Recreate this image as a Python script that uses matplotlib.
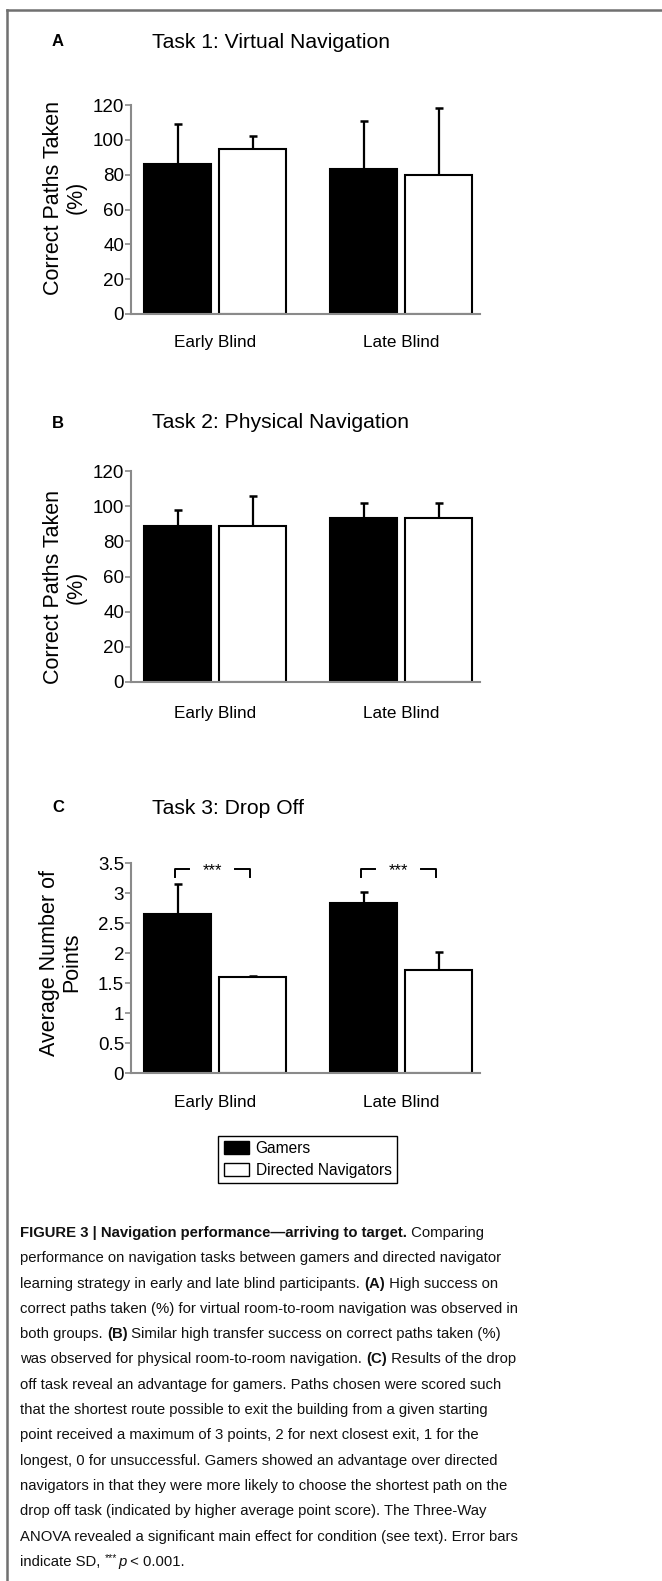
import matplotlib
matplotlib.use('Agg')
import matplotlib.pyplot as plt
import numpy as np
from matplotlib.patches import Patch
from matplotlib.lines import Line2D

plt.rcParams['font.family'] = ['Liberation Sans Narrow', 'Liberation Sans', 'DejaVu Sans']

# data
groups = ['Early Blind', 'Late Blind']
series = ['Gamers', 'Directed Navigators']

task1_gamers = [86, 83]
task1_gamers_sd = [23, 28]
task1_directed = [95, 80]
task1_directed_sd = [7, 38]

task2_gamers = [89, 93]
task2_gamers_sd = [9, 9]
task2_directed = [88.5, 93]
task2_directed_sd = [17.5, 9]

task3_gamers = [2.65, 2.83]
task3_gamers_sd = [0.5, 0.18]
task3_directed = [1.60, 1.71]
task3_directed_sd = [0.02, 0.30]

panel_letters = ['A', 'B', 'C']
titles = ['Task 1: Virtual Navigation', 'Task 2: Physical Navigation', 'Task 3: Drop Off']
ylabels = ['Correct Paths Taken\n(%)', 'Correct Paths Taken\n(%)', 'Average Number of\nPoints']
yticks_list = [np.arange(0, 121, 20), np.arange(0, 121, 20), [0, 0.5, 1, 1.5, 2, 2.5, 3, 3.5]]
yticklabels_list = [['0', '20', '40', '60', '80', '100', '120'],
                    ['0', '20', '40', '60', '80', '100', '120'],
                    ['0', '0.5', '1', '1.5', '2', '2.5', '3', '3.5']]

W, H = 662, 1581
fig = plt.figure(figsize=(W / 100, H / 100), dpi=100)


def fx(px):
    return px / W


def fy(py):
    return 1 - py / H


# frame lines (top and left)
fig.add_artist(Line2D([fx(7), 1], [fy(10), fy(10)], color='#707070', lw=1.8))
fig.add_artist(Line2D([fx(7), fx(7)], [fy(10), 0], color='#707070', lw=1.8))

# axes boxes in pixels: (top, bottom)
boxes = [(105, 314), (471, 682), (863, 1073)]
title_y = [42, 423, 808]
label_pos = [(-0.127, 0.557), (-0.127, 0.45), (-0.14, 0.526)]
xpads = [15, 17, 16]
data = [
    (task1_gamers, task1_gamers_sd, task1_directed, task1_directed_sd, 120),
    (task2_gamers, task2_gamers_sd, task2_directed, task2_directed_sd, 120),
    (task3_gamers, task3_gamers_sd, task3_directed, task3_directed_sd, 3.5),
]

centers = np.array([1.12, 3.6])
bw = 0.89
gray = '#8a8a8a'

axes = []
for i, (top, bot) in enumerate(boxes):
    ax = fig.add_axes([fx(131), fy(bot), fx(480) - fx(131), (bot - top) / H])
    g, gsd, d, dsd, ymax = data[i]
    ax.bar(centers - 0.5, g, bw, color='black', edgecolor='black', lw=1.5, zorder=2)
    ax.bar(centers + 0.5, d, bw, color='white', edgecolor='black', lw=1.5, zorder=2)
    ax.errorbar(centers - 0.5, g, yerr=[np.zeros(2), gsd], fmt='none', ecolor='black',
                elinewidth=1.6, capsize=2.6, capthick=1.8, zorder=1)
    ax.errorbar(centers + 0.5, d, yerr=[np.zeros(2), dsd], fmt='none', ecolor='black',
                elinewidth=1.6, capsize=2.6, capthick=1.8, zorder=1)
    ax.set_xlim(0, 4.65)
    ax.set_ylim(0, ymax)
    ax.set_yticks(yticks_list[i])
    ax.set_yticklabels(yticklabels_list[i], fontsize=13.5)
    ax.set_xticks(centers)
    ax.set_xticklabels(groups, fontsize=12.3)
    ax.tick_params(axis='x', length=0, pad=xpads[i])
    ax.tick_params(axis='y', length=4, width=1.2, color=gray, pad=1)
    for s in ['top', 'right']:
        ax.spines[s].set_visible(False)
    ax.spines['left'].set_color(gray)
    ax.spines['bottom'].set_color(gray)
    ax.spines['left'].set_linewidth(1.5)
    ax.spines['bottom'].set_linewidth(1.5)
    ax.set_ylabel(ylabels[i], fontsize=15.5, family='Liberation Sans', linespacing=1.08)
    ax.yaxis.set_label_coords(*label_pos[i])
    fig.text(fx(58), fy(title_y[i]), panel_letters[i], fontsize=12, fontweight='bold',
             family='Liberation Sans', ha='center', va='center')
    fig.text(fx(152), fy(title_y[i]), titles[i], fontsize=15.2, ha='left', va='center')
    axes.append(ax)

# significance brackets on task 3
ax = axes[2]
for c in centers:
    xl, xr = c - 0.5 - 0.04, c + 0.5 - 0.04
    ax.plot([xl, xl, xl + 0.19], [3.26, 3.40, 3.40], color='black', lw=1.4, clip_on=False)
    ax.plot([xr - 0.19, xr, xr], [3.40, 3.40, 3.26], color='black', lw=1.4, clip_on=False)
    ax.text((xl + xr) / 2, 3.37, '***', ha='center', va='center', fontsize=12)

# legend
handles = [Patch(facecolor='black', edgecolor='black', label=series[0]),
           Patch(facecolor='white', edgecolor='black', label=series[1])]
fig.legend(handles=handles, loc='center', bbox_to_anchor=(fx(307.5), fy(1159.5)), fontsize=11.2,
           frameon=True, fancybox=False, edgecolor='black', framealpha=1,
           handlelength=1.6, handleheight=0.85, handletextpad=0.45, labelspacing=0.45,
           borderpad=0.35, borderaxespad=0)

# caption, drawn piece by piece so bold parts sit inline
caption = [
    [('FIGURE 3 | Navigation performance\u2014arriving to target.', 'b'), (' Comparing', 'n')],
    [('performance on navigation tasks between gamers and directed navigator', 'n')],
    [('learning strategy in early and late blind participants. ', 'n'), ('(A)', 'b'), (' High success on', 'n')],
    [('correct paths taken (%) for virtual room-to-room navigation was observed in', 'n')],
    [('both groups. ', 'n'), ('(B)', 'b'), (' Similar high transfer success on correct paths taken (%)', 'n')],
    [('was observed for physical room-to-room navigation. ', 'n'), ('(C)', 'b'), (' Results of the drop', 'n')],
    [('off task reveal an advantage for gamers. Paths chosen were scored such', 'n')],
    [('that the shortest route possible to exit the building from a given starting', 'n')],
    [('point received a maximum of 3 points, 2 for next closest exit, 1 for the', 'n')],
    [('longest, 0 for unsuccessful. Gamers showed an advantage over directed', 'n')],
    [('navigators in that they were more likely to choose the shortest path on the', 'n')],
    [('drop off task (indicated by higher average point score). The Three-Way', 'n')],
    [('ANOVA revealed a significant main effect for condition (see text). Error bars', 'n')],
    [('indicate SD, ', 'n'), ('***', 's'), ('p', 'i'), (' < 0.001.', 'n')],
]

renderer = fig.canvas.get_renderer()
cap_size = 10.7
for k, line in enumerate(caption):
    y = 1233 + k * 25.3
    x = 20
    for txt, st in line:
        kw = dict(fontsize=cap_size, ha='left', va='center', color='#111111')
        yy = y
        if st == 'b':
            kw['fontweight'] = 'bold'
        elif st == 'i':
            kw['fontstyle'] = 'italic'
        elif st == 's':
            kw['fontsize'] = cap_size * 0.7
            yy = y - 4
        t = fig.text(fx(x), fy(yy), txt, **kw)
        bb = t.get_window_extent(renderer=renderer)
        x += bb.width
        if st == 's':
            x += 1

fig.savefig('out.png', dpi=100)
